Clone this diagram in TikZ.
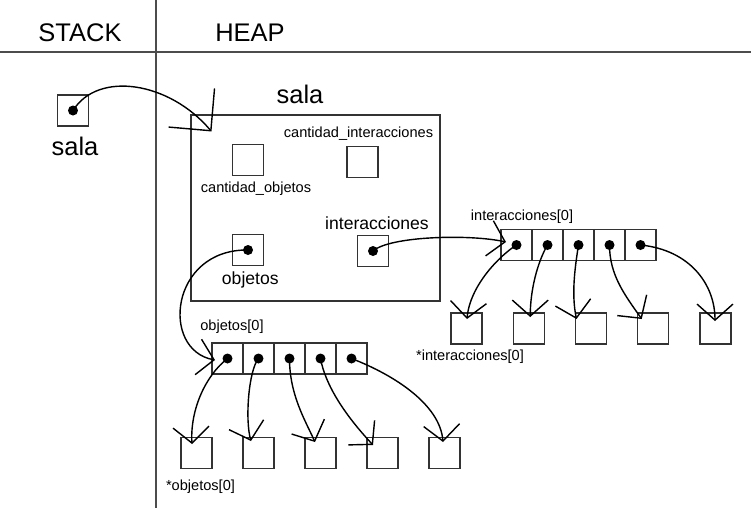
\documentclass[tikz,border=0pt]{standalone}
\usepackage{fontspec}
\setmainfont{Liberation Sans}
\usetikzlibrary{arrows.meta}

\tikzset{
  box/.style={draw=black!80, line width=0.6pt, minimum size=0.62cm, inner sep=0pt},
  ptr/.style={line width=0.8pt, -{Straight Barb[length=0.32cm, width=0.72cm]}},
  bigptr/.style={line width=0.8pt, -{Straight Barb[length=0.6cm, width=1.2cm]}},
  big/.style={font=\fontsize{14.5}{17}\selectfont, anchor=base},
  mid/.style={font=\fontsize{10}{12}\selectfont, anchor=base},
  small/.style={font=\fontsize{8.3}{10}\selectfont, anchor=base},
}

\begin{document}
\begin{tikzpicture}[x=0.02cm, y=-0.02cm]

\useasboundingbox (0,0) rectangle (751,508);

\draw[black!70, line width=0.6pt] (0,52) -- (751,52);
\draw[black!70, line width=0.6pt] (156,0) -- (156,508);
\node[big] (stack) at (80,41.7) {STACK};
\node[big] (heap) at (250,41.7) {HEAP};

\node[box] (stsala) at (73,110.5) {};
\fill (stsala.center) circle (0.1cm);
\node[big] (stsalalbl) at (75,155) {sala};

\node[draw=black!80, line width=0.6pt, minimum width=4.98cm, minimum height=3.72cm, inner sep=0pt] (salaobj) at (315.5,208) {};
\node[big] (salalbl) at (300,103.3) {sala};
\node[box] (cantobj) at (248,160) {};
\node[small] (cantobjlbl) at (256,192.7) {cantidad\_objetos};
\node[box] (cantint) at (362.5,162) {};
\node[small] (cantintlbl) at (358.5,137.7) {cantidad\_interacciones};
\node[box] (objetos) at (248,250) {};
\fill (objetos.center) circle (0.1cm);
\node[mid] (objetoslbl) at (250.3,284.3) {objetos};
\node[box] (interac) at (373,251) {};
\fill (interac.center) circle (0.1cm);
\node[mid] (interaclbl) at (377,229.3) {interacciones};

\foreach \k in {1,...,5} {
  \node[box] (i\k) at (485.5+31*\k,245) {};
  \fill (i\k.center) circle (0.1cm);
  \node[box] (ti\k) at (404.25+62.25*\k,328.5) {};
  \node[box] (o\k) at (196.5+31*\k,358.5) {};
  \fill (o\k.center) circle (0.1cm);
  \node[box] (to\k) at (134.5+62*\k,453) {};
}
\node[small] (intarrlbl) at (522,220.7) {interacciones[0]};
\node[small] (intptrlbl) at (470,360) {*interacciones[0]};
\node[small] (objarrlbl) at (232,330.7) {objetos[0]};
\node[small] (objptrlbl) at (200.5,490) {*objetos[0]};

\coordinate (salatip) at ([shift={(21,17)}]salaobj.north west);
\coordinate (o1in) at ([shift={(-12.5,1.5)}]o1.center);
\coordinate (i1in) at ([shift={(-10.5,-3)}]i1.center);
\foreach \k/\dx/\dy in {1/0.5/-9.5, 2/1.5/-11.5, 3/-14.5/-9.5, 4/-11.5/-9.5, 5/-0.5/-7.5}
  \coordinate (ti\k tip) at ([shift={(\dx,\dy)}]ti\k.center);
\foreach \k/\dx/\dy in {1/-4.5/-9, 2/-7.5/-12, 3/-5.5/-11, 4/-9.5/-8, 5/-1.5/-11}
  \coordinate (to\k tip) at ([shift={(\dx,\dy)}]to\k.center);

\draw[bigptr] (stsala.center) .. controls +(25,-40) and +(-42,-50) .. (salatip);
\draw[ptr] (objetos.center) .. controls +(-78,-1) and +(-55,-10) .. (o1in);
\draw[ptr] (interac.center) .. controls +(17,-15) and +(-36,-8) .. (i1in);

\draw[ptr] (i1.center) .. controls +(-16,10) and +(3,-34) .. (ti1tip);
\draw[ptr] (i2.center) .. controls +(-10,17) and +(0,-27) .. (ti2tip);
\draw[ptr] (i3.center) .. controls +(-4,25) and +(-5,-24) .. (ti3tip);
\draw[ptr] (i4.center) .. controls +(0,30) and +(-17,-24) .. (ti4tip);
\draw[ptr] (i5.center) .. controls +(50,5) and +(0,-36) .. (ti5tip);

\draw[ptr] (o1.center) .. controls +(-22,17) and +(-2,-34) .. (to1tip);
\draw[ptr] (o2.center) .. controls +(-10,12) and +(-6,-21) .. (to2tip);
\draw[ptr] (o3.center) .. controls +(0,36) and +(-10,-22) .. (to3tip);
\draw[ptr] (o4.center) .. controls +(5,27) and +(-28,-30) .. (to4tip);
\draw[ptr] (o5.center) .. controls +(44,17) and +(-3,-37) .. (to5tip);

\end{tikzpicture}
\end{document}
